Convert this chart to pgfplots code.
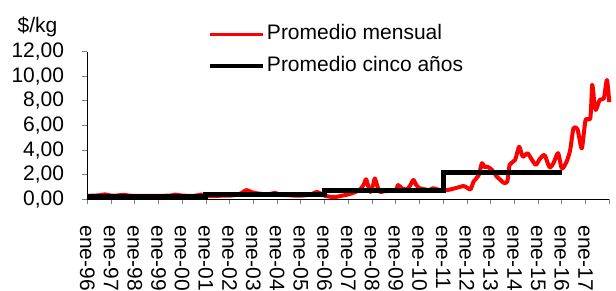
\documentclass[border=0pt]{standalone}
\usepackage{pgfplots}
\pgfplotsset{compat=1.18}
\usepackage{fontspec}
\setmainfont{Liberation Sans}

\begin{document}
\begin{tikzpicture}[font=\fontsize{21}{25}\selectfont]
\begin{axis}[
  name=ax, scale only axis, width=522pt, height=147.6pt,
  xmin=1996, xmax=2018, ymin=0, ymax=12,
  axis x line=bottom, axis y line=left,
  axis line style={-, line width=0.8pt, black},
  xtick={1996,1997,1998,1999,2000,2001,2002,2003,2004,2005,2006,2007,2008,2009,2010,2011,2012,2013,2014,2015,2016,2017},
  xticklabels={ene-96,ene-97,ene-98,ene-99,ene-00,ene-01,ene-02,ene-03,ene-04,ene-05,ene-06,ene-07,ene-08,ene-09,ene-10,ene-11,ene-12,ene-13,ene-14,ene-15,ene-16,ene-17},
  extra x ticks={2018}, extra x tick labels={},
  ytick={0,2,4,6,8,10,12},
  tick align=outside, major tick length=5pt,
  major tick style={gray, line width=0.8pt},
  every tick/.style={gray, line width=0.8pt},
  yticklabel style={/pgf/number format/fixed, /pgf/number format/fixed zerofill, /pgf/number format/precision=2, /pgf/number format/use comma, /pgf/number format/1000 sep={}, /pgf/number format/assume math mode=true},
  y tick label style={anchor=east, inner sep=0pt, xshift=-18pt},
  x tick label style={yshift=-21pt, rotate=-90, anchor=west, inner sep=0pt},
  clip=false,
  legend cell align=left,
  legend style={draw=none, fill=none, at={(rel axis cs:0,1)}, anchor=north west,
    xshift=121pt, yshift=30pt, row sep=6.4pt, inner sep=0pt,
    nodes={inner sep=2pt, text height=16pt, text depth=5pt}},
  legend image code/.code={\draw[#1, line width=3.5pt] (0pt,0pt) -- (53pt,0pt);},
]
\addplot[red, line width=4pt, line join=round, smooth, tension=0.4] coordinates {
(1996.0,0.28) (1996.25,0.3) (1996.5,0.32) (1996.75,0.4) (1997.0,0.3) (1997.25,0.3)
(1997.5,0.37) (1997.75,0.3) (1998.0,0.28) (1998.5,0.27) (1999.0,0.28) (1999.5,0.3)
(1999.7,0.38) (2000.0,0.3) (2000.5,0.28) (2000.8,0.38) (2001.0,0.3) (2001.25,0.25)
(2001.5,0.28) (2001.75,0.3) (2002.0,0.3) (2002.25,0.35) (2002.5,0.5) (2002.7,0.75)
(2002.9,0.6) (2003.1,0.5) (2003.3,0.45) (2003.5,0.4) (2003.75,0.45) (2003.91,0.52)
(2004.1,0.4) (2004.3,0.35) (2004.5,0.33) (2004.75,0.3) (2005.0,0.3) (2005.3,0.35)
(2005.5,0.45) (2005.67,0.6) (2005.85,0.45) (2006.0,0.3) (2006.25,0.2) (2006.5,0.2)
(2006.75,0.3) (2007.0,0.4) (2007.25,0.55) (2007.5,0.8) (2007.65,1.2) (2007.75,1.63)
(2007.85,1.0) (2007.94,0.6) (2008.05,1.2) (2008.12,1.7) (2008.22,1.1) (2008.33,0.6)
(2008.5,0.65) (2008.75,0.7) (2009.0,0.75) (2009.1,1.16) (2009.25,0.9) (2009.46,0.8)
(2009.6,1.1) (2009.74,1.57) (2009.85,1.2) (2010.0,0.9) (2010.25,0.8) (2010.4,0.75)
(2010.58,0.9) (2010.75,0.8) (2011.0,0.72) (2011.3,0.8) (2011.6,0.95) (2011.85,1.08)
(2012.0,0.95) (2012.15,0.8) (2012.28,1.43) (2012.5,1.98) (2012.63,2.93) (2012.75,2.6)
(2012.85,2.66) (2013.05,2.4) (2013.26,1.84) (2013.4,1.6) (2013.54,1.35) (2013.7,1.43)
(2013.8,2.8) (2014.03,3.2) (2014.2,4.28) (2014.35,3.47) (2014.55,3.74) (2014.7,3.33)
(2014.9,2.8) (2015.06,3.25) (2015.27,3.6) (2015.48,2.6) (2015.65,2.95) (2015.84,3.75)
(2016.0,2.5) (2016.2,3.06) (2016.35,4.0) (2016.49,5.77) (2016.66,5.7) (2016.84,4.14)
(2017.0,6.45) (2017.2,6.6) (2017.28,9.3) (2017.36,8.0) (2017.43,7.26) (2017.6,8.1)
(2017.77,8.2) (2017.9,9.7) (2018.0,7.9)
};
\addlegendentry{Promedio mensual}
\addplot[black, line width=5pt, const plot mark left] coordinates {
(1996,0.2) (2001,0.4) (2006,0.72) (2011,2.2) (2016,2.2)
};
\addlegendentry{Promedio cinco años}
\node at (rel axis cs:0,1) [xshift=-49.8pt, yshift=25pt] {\$/kg};
\coordinate (O) at (rel axis cs:0,0);
\end{axis}
\path (O) ++(-87.3pt,-89.7pt) rectangle ++(616pt,289pt);
\end{tikzpicture}
\end{document}
